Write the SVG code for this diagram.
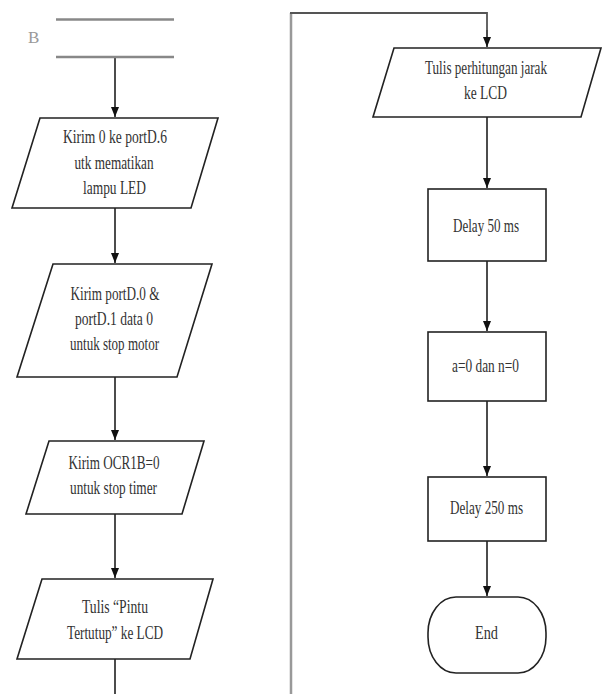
<svg xmlns="http://www.w3.org/2000/svg" width="607" height="694" viewBox="0 0 607 694">
<defs>
<marker id="ah" markerUnits="userSpaceOnUse" markerWidth="10" markerHeight="10" viewBox="0 0 10 10" refX="10" refY="5" orient="auto">
<path d="M0,1 L10,5 L0,9 Z" fill="#111"/>
</marker>
<style>
.sh{fill:#fff;stroke:#222;stroke-width:1.6}
.t{font-family:"Liberation Serif","Times New Roman",serif;font-size:19px;fill:#333;text-anchor:middle}
.c{fill:none;stroke:#111;stroke-width:1.5}
</style>
</defs>
<rect width="607" height="694" fill="#fff"/>
<g id="connectors">
<path class="c" d="M115,57 V117" marker-end="url(#ah)"/>
<path class="c" d="M115,208 V263" marker-end="url(#ah)"/>
<path class="c" d="M115,377 V440" marker-end="url(#ah)"/>
<path class="c" d="M115,514 V578" marker-end="url(#ah)"/>
<path class="c" d="M115,659 V694"/>
<path fill="none" stroke="#999" stroke-width="2.5" d="M291,694 V13"/>
<path fill="none" stroke="#555" stroke-width="1.8" d="M290,13 H487 V30"/>
<path class="c" d="M487,30 V47" marker-end="url(#ah)"/>
<path class="c" d="M487,117 V188" marker-end="url(#ah)"/>
<path class="c" d="M487,261 V331" marker-end="url(#ah)"/>
<path class="c" d="M487,401 V476" marker-end="url(#ah)"/>
<path class="c" d="M487,541 V596" marker-end="url(#ah)"/>
</g>
<g id="connector-B">
<line x1="56" y1="19.5" x2="174" y2="19.5" stroke="#888" stroke-width="2.5"/>
<line x1="56" y1="57" x2="174" y2="57" stroke="#888" stroke-width="2.5"/>
<text x="28" y="43" style="font-family:'Liberation Serif',serif;font-size:17px;fill:#999">B</text>
</g>
<g id="p1">
<polygon class="sh" points="40,118 218,118 191,208 12,208"/>
<text class="t" x="115" y="143" textLength="104" lengthAdjust="spacingAndGlyphs">Kirim 0 ke portD.6</text>
<text class="t" x="114" y="169" textLength="79" lengthAdjust="spacingAndGlyphs">utk mematikan</text>
<text class="t" x="114.5" y="194" textLength="63" lengthAdjust="spacingAndGlyphs">lampu LED</text>
</g>
<g id="p2">
<polygon class="sh" points="53,264 212,264 177,377 17,377"/>
<text class="t" x="115" y="300" textLength="89" lengthAdjust="spacingAndGlyphs">Kirim portD.0 &amp;</text>
<text class="t" x="114" y="325" textLength="78" lengthAdjust="spacingAndGlyphs">portD.1 data 0</text>
<text class="t" x="114.5" y="350" textLength="89" lengthAdjust="spacingAndGlyphs">untuk stop motor</text>
</g>
<g id="p3">
<polygon class="sh" points="49,441 204,441 182,514 26,514"/>
<text class="t" x="114" y="469" textLength="91" lengthAdjust="spacingAndGlyphs">Kirim OCR1B=0</text>
<text class="t" x="113.5" y="494" textLength="87" lengthAdjust="spacingAndGlyphs">untuk stop timer</text>
</g>
<g id="p4">
<polygon class="sh" points="42,579 213,579 190,659 17,659"/>
<text class="t" x="115" y="613" textLength="66" lengthAdjust="spacingAndGlyphs">Tulis “Pintu</text>
<text class="t" x="115" y="639" textLength="96" lengthAdjust="spacingAndGlyphs">Tertutup” ke LCD</text>
</g>
<g id="p5">
<polygon class="sh" points="394,48 601,48 581,117 373,117"/>
<text class="t" x="486" y="74" textLength="122" lengthAdjust="spacingAndGlyphs">Tulis perhitungan jarak</text>
<text class="t" x="485.5" y="99" textLength="43" lengthAdjust="spacingAndGlyphs">ke LCD</text>
</g>
<g id="r1">
<rect class="sh" x="428" y="189" width="118" height="72"/>
<text class="t" x="486" y="232" textLength="66" lengthAdjust="spacingAndGlyphs">Delay 50 ms</text>
</g>
<g id="r2">
<rect class="sh" x="428" y="332" width="118" height="69"/>
<text class="t" x="485.5" y="372" textLength="67" lengthAdjust="spacingAndGlyphs">a=0 dan n=0</text>
</g>
<g id="r3">
<rect class="sh" x="428" y="477" width="118" height="64"/>
<text class="t" x="486.5" y="514" textLength="73" lengthAdjust="spacingAndGlyphs">Delay 250 ms</text>
</g>
<g id="end">
<rect class="sh" x="428" y="597" width="118" height="76" rx="28" ry="36"/>
<text class="t" x="486.5" y="639" textLength="23" lengthAdjust="spacingAndGlyphs">End</text>
</g>
</svg>
